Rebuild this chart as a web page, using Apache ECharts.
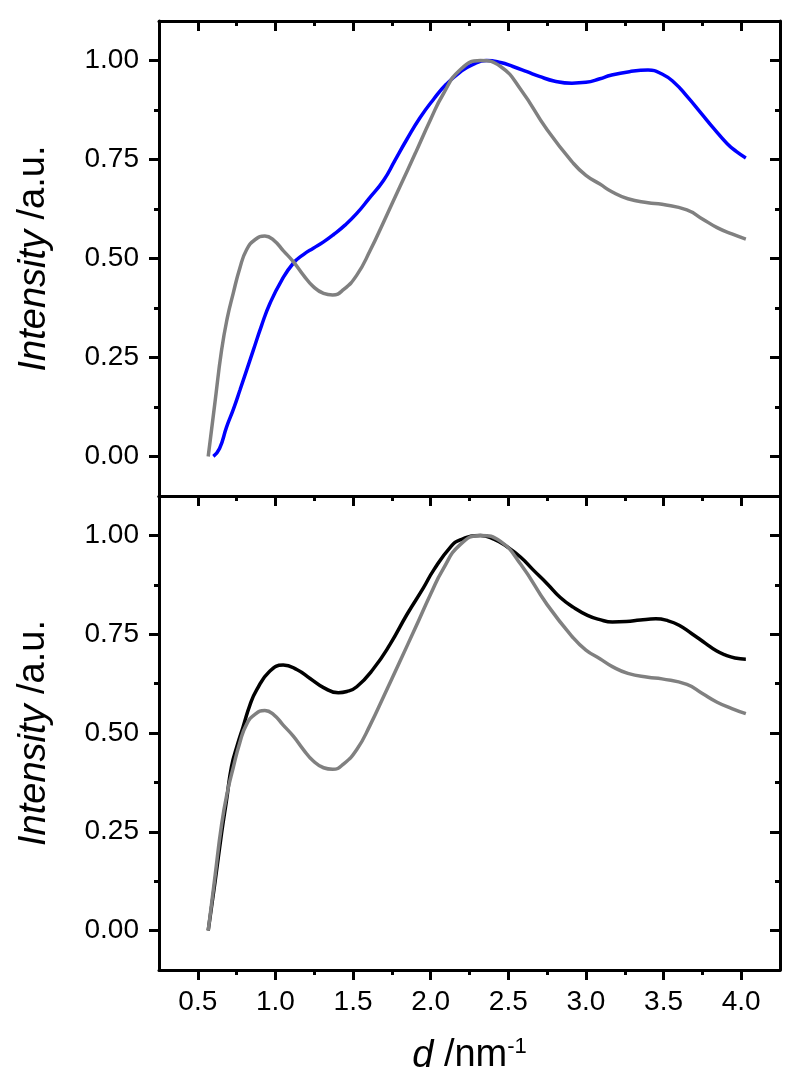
<!DOCTYPE html>
<html>
<head>
<meta charset="utf-8">
<script src="https://cdn.jsdelivr.net/npm/echarts@6/dist/echarts.min.js"></script>
<style>
  html, body { margin: 0; padding: 0; background: #ffffff; }
  #chart { width: 800px; height: 1085px; }
</style>
</head>
<body>
<div id="chart"></div>
<script>
  // reference curve (grey), same in both panels
  const greyX = [0.567, 0.61, 0.653, 0.69, 0.728, 0.77, 0.814, 0.87, 0.932, 0.99, 1.05, 1.115, 1.18, 1.244, 1.31, 1.369, 1.44, 1.524, 1.61, 1.70, 1.80, 1.90, 2.0, 2.08, 2.19, 2.32, 2.45, 2.58, 2.75, 2.92, 3.0, 3.09, 3.17, 3.27, 3.40, 3.49, 3.65, 3.75, 3.845, 3.94, 4.03];
  const greyY = [0.0, 0.135, 0.268, 0.35, 0.412, 0.475, 0.522, 0.548, 0.557, 0.546, 0.52, 0.492, 0.458, 0.429, 0.412, 0.408, 0.422, 0.458, 0.52, 0.595, 0.68, 0.765, 0.852, 0.915, 0.977, 1.0, 0.985, 0.927, 0.825, 0.74, 0.71, 0.688, 0.668, 0.651, 0.641, 0.637, 0.623, 0.60, 0.578, 0.562, 0.549];

  // top panel (blue)
  const blueX = [0.60, 0.64, 0.685, 0.73, 0.771, 0.857, 0.91, 0.965, 1.04, 1.115, 1.18, 1.244, 1.31, 1.373, 1.45, 1.524, 1.60, 1.696, 1.77, 1.845, 1.93, 2.02, 2.10, 2.19, 2.27, 2.36, 2.45, 2.53, 2.62, 2.70, 2.80, 2.91, 3.0, 3.09, 3.16, 3.28, 3.40, 3.49, 3.57, 3.65, 3.74, 3.82, 3.91, 3.97, 4.03];
  const blueY = [0.0, 0.02, 0.074, 0.12, 0.167, 0.268, 0.33, 0.387, 0.445, 0.488, 0.51, 0.526, 0.542, 0.56, 0.585, 0.614, 0.65, 0.697, 0.748, 0.80, 0.855, 0.903, 0.94, 0.971, 0.99, 1.0, 0.995, 0.985, 0.972, 0.96, 0.948, 0.943, 0.945, 0.954, 0.963, 0.972, 0.976, 0.966, 0.944, 0.91, 0.868, 0.83, 0.79, 0.77, 0.754];

  // bottom panel (black)
  const blackX = [0.567, 0.61, 0.653, 0.685, 0.717, 0.755, 0.792, 0.835, 0.879, 0.96, 1.05, 1.14, 1.223, 1.31, 1.405, 1.46, 1.524, 1.63, 1.739, 1.847, 1.954, 2.02, 2.126, 2.19, 2.32, 2.41, 2.49, 2.58, 2.66, 2.75, 2.835, 2.92, 3.01, 3.09, 3.17, 3.26, 3.35, 3.45, 3.53, 3.60, 3.68, 3.77, 3.84, 3.90, 3.96, 4.03];
  const blackY = [0.0, 0.12, 0.246, 0.33, 0.415, 0.47, 0.516, 0.57, 0.609, 0.655, 0.672, 0.66, 0.638, 0.615, 0.602, 0.605, 0.617, 0.662, 0.725, 0.80, 0.868, 0.913, 0.97, 0.989, 1.0, 0.99, 0.972, 0.945, 0.913, 0.878, 0.843, 0.818, 0.798, 0.787, 0.781, 0.782, 0.786, 0.789, 0.784, 0.773, 0.752, 0.727, 0.708, 0.697, 0.69, 0.687];

  const xMajor = [0.5, 1.0, 1.5, 2.0, 2.5, 3.0, 3.5, 4.0];
  const xMinor = [0.75, 1.25, 1.75, 2.25, 2.75, 3.25, 3.75];
  const yMajor = [0, 0.25, 0.5, 0.75, 1.0];
  const yMinor = [0.125, 0.375, 0.625, 0.875];

  const zip = (xs, ys) => xs.map((x, i) => [x, ys[i]]);

  const font = 'Liberation Sans, Arial, sans-serif';
  const tickStyle = { color: '#000', width: 3 };
  const axisLine = show => ({ show: show, onZero: false, lineStyle: { color: '#000', width: 3 } });

  const xAxisOf = (grid, pos, values, len, inside, line, labels) => ({
    type: 'value', gridIndex: grid, position: pos, min: 0.25, max: 4.25,
    axisLine: axisLine(line),
    axisTick: { show: len > 0, customValues: values, inside: inside, length: len, lineStyle: tickStyle },
    axisLabel: labels
      ? { show: true, customValues: values, margin: 18, fontSize: 28, color: '#000', fontFamily: font, formatter: v => v.toFixed(1) }
      : { show: false },
    splitLine: { show: false }
  });

  const yAxisOf = (grid, pos, values, len, inside, line, labels) => ({
    type: 'value', gridIndex: grid, position: pos, min: -0.1, max: 1.1,
    axisLine: axisLine(line),
    axisTick: { show: true, customValues: values, inside: inside, length: len, lineStyle: tickStyle },
    axisLabel: labels
      ? { show: true, customValues: values, margin: 20, fontSize: 28, color: '#000', fontFamily: font, formatter: v => v.toFixed(2) }
      : { show: false },
    splitLine: { show: false }
  });

  const yName = {
    name: '{i|Intensity} /a.u.',
    nameLocation: 'middle',
    nameGap: 106,
    nameTextStyle: {
      fontSize: 38, color: '#000', fontFamily: font,
      rich: { i: { fontSize: 38, fontStyle: 'italic', fontFamily: font, color: '#000' } }
    }
  };

  const xName = {
    name: '{i|d} /nm{sup|-1}',
    nameLocation: 'middle',
    nameGap: 66,
    nameTextStyle: {
      fontSize: 38, color: '#000', fontFamily: font,
      rich: {
        i: { fontSize: 38, fontStyle: 'italic', fontFamily: font, color: '#000' },
        sup: { fontSize: 22, fontFamily: font, color: '#000', verticalAlign: 'top', padding: [0, 0, 18, 0] }
      }
    }
  };

  // grids 0/2 carry the frame and major ticks, grids 1/3 (same rect) the minor ticks
  const xAxes = [
    xAxisOf(0, 'bottom', xMajor, 0, false, true, false),   // 0 series axis, top panel
    xAxisOf(0, 'top', xMajor, 10, true, true, false),
    xAxisOf(1, 'top', xMinor, 5, true, false, false),
    Object.assign(xAxisOf(2, 'bottom', xMajor, 10, false, true, true), xName), // 3 series axis, bottom panel
    xAxisOf(2, 'top', xMajor, 10, true, true, false),
    xAxisOf(3, 'bottom', xMinor, 5, false, false, false),
    xAxisOf(3, 'top', xMinor, 5, true, false, false)
  ];

  const yAxes = [
    Object.assign(yAxisOf(0, 'left', yMajor, 10, false, true, true), yName), // 0
    yAxisOf(0, 'right', yMajor, 10, true, true, false),
    yAxisOf(1, 'left', yMinor, 5, false, false, false),
    yAxisOf(1, 'right', yMinor, 5, true, false, false),
    Object.assign(yAxisOf(2, 'left', yMajor, 10, false, true, true), yName), // 4
    yAxisOf(2, 'right', yMajor, 10, true, true, false),
    yAxisOf(3, 'left', yMinor, 5, false, false, false),
    yAxisOf(3, 'right', yMinor, 5, true, false, false)
  ];

  const line = (name, data, color, xi, yi) => ({
    name: name, type: 'line', xAxisIndex: xi, yAxisIndex: yi,
    data: data, smooth: 0.5, showSymbol: false, symbol: 'none',
    lineStyle: { color: color, width: 3.5 }, itemStyle: { color: color }
  });

  const gridTop = { left: 159, right: 20, top: 21, height: 475 };
  const gridBottom = { left: 159, right: 20, top: 496, height: 474 };

  const chart = echarts.init(document.getElementById('chart'));
  chart.setOption({
    animation: false,
    backgroundColor: '#ffffff',
    grid: [gridTop, gridTop, gridBottom, gridBottom],
    xAxis: xAxes,
    yAxis: yAxes,
    series: [
      line('top', zip(blueX, blueY), '#0000ff', 0, 0),
      line('ref top', zip(greyX, greyY), '#808080', 0, 0),
      line('bottom', zip(blackX, blackY), '#000000', 3, 4),
      line('ref bottom', zip(greyX, greyY), '#808080', 3, 4)
    ]
  });
</script>
</body>
</html>
